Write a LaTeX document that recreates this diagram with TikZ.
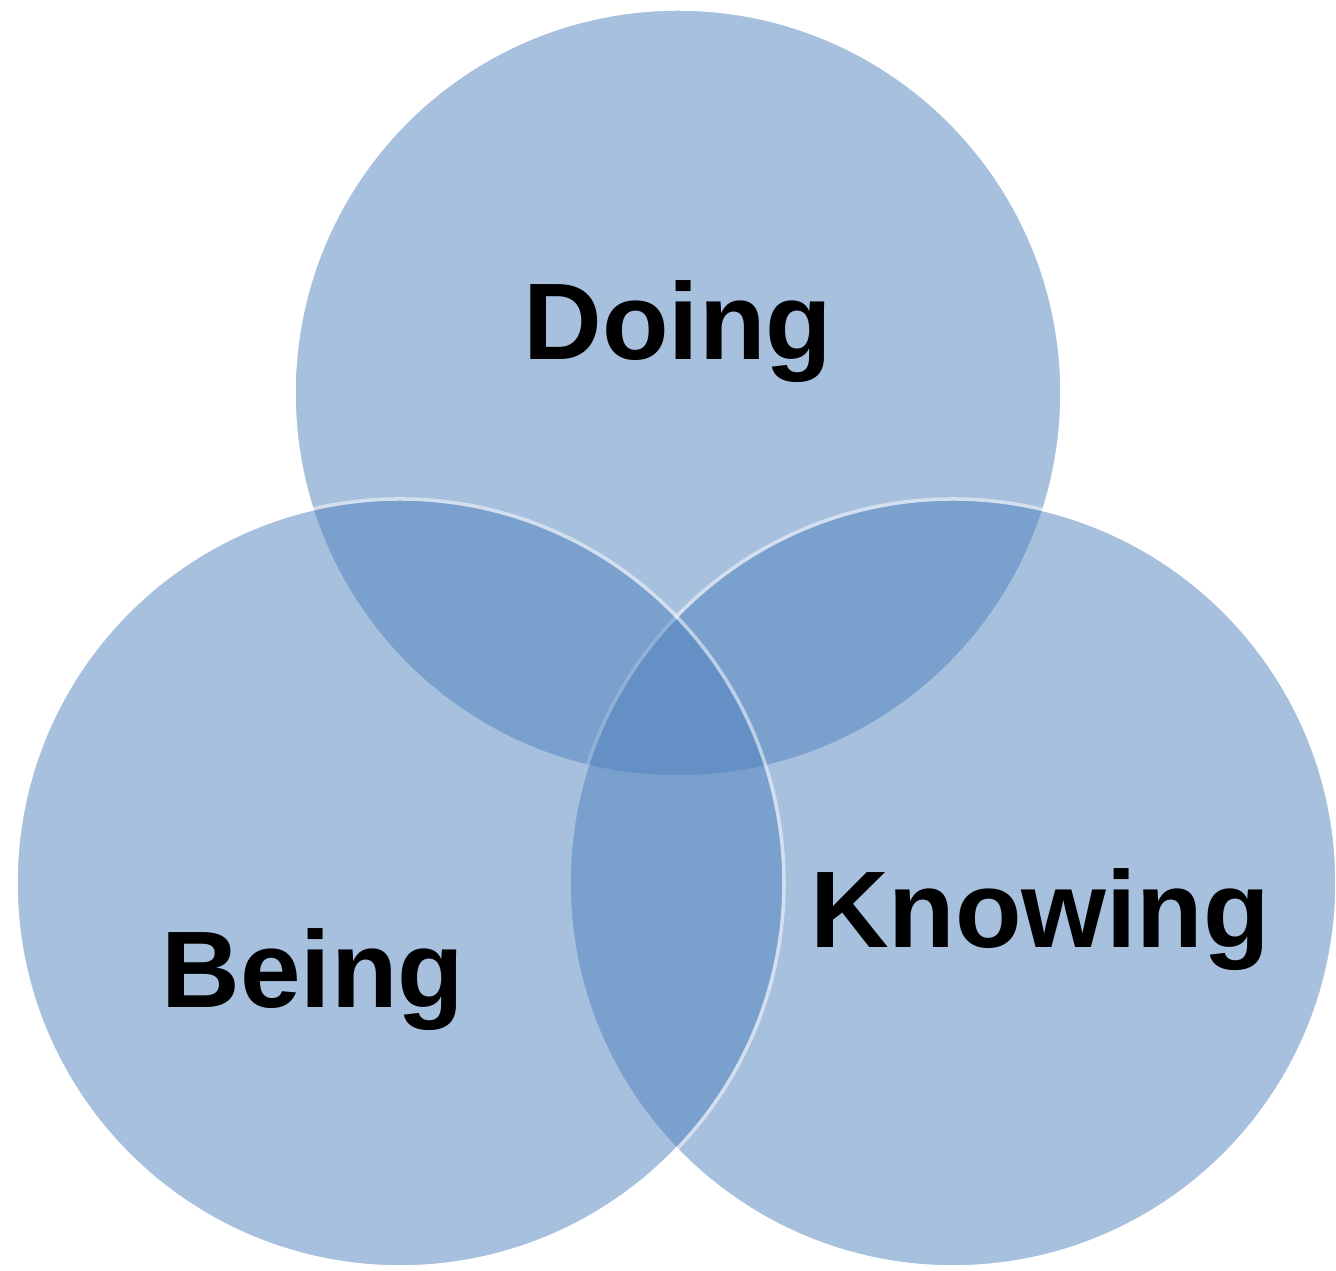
\documentclass[tikz,border=0pt]{standalone}
\usepackage{fontspec}
\setmainfont{Liberation Sans}
\usetikzlibrary{positioning}
\definecolor{vennblue}{RGB}{79,129,189}
\tikzstyle{venn}      = [circle, minimum size=7.68cm, inner sep=0pt, fill=vennblue, draw=white, line width=1pt]
\tikzstyle{vennlabel} = [anchor=base, inner sep=0pt, text=black, font=\bfseries\fontsize{31}{37}\selectfont]

\begin{document}
\begin{tikzpicture}
				\useasboundingbox (0,0) rectangle (13.36,12.71);
				% circles, each one blended as a whole
				\begin{scope}[transparency group, opacity=0.5]
				\node (doing) [venn] at (6.78,8.78) {};
				\end{scope}
				\begin{scope}[transparency group, opacity=0.5]
				\node (knowing) [venn] at (9.53,3.88) {};
				\end{scope}
				\begin{scope}[transparency group, opacity=0.5]
				\node (being) [venn] at (4.00,3.88) {};
				\end{scope}
				
				\node (doingtext) [vennlabel] at (6.78,9.11) {Doing};
				\node (knowingtext) [vennlabel] at (10.40,3.23) {Knowing};
				\node (beingtext) [vennlabel] at (3.13,2.63) {Being};
\end{tikzpicture}
\end{document}
